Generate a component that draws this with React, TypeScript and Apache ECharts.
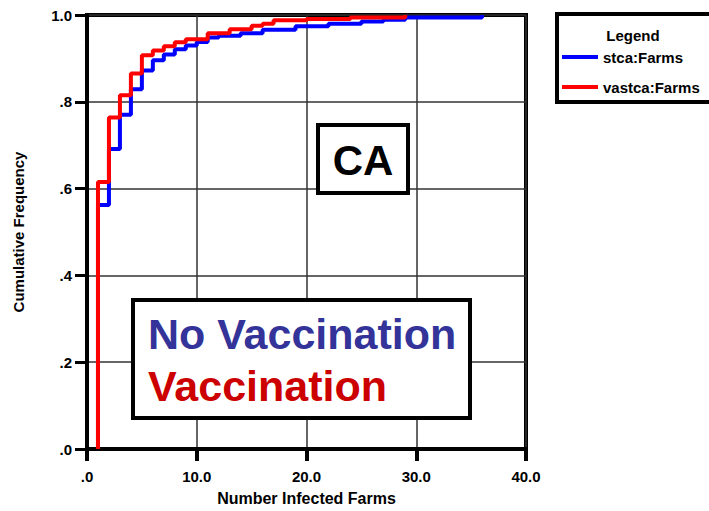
import React, { useEffect, useRef } from 'react';
import * as echarts from 'echarts';

const xTickLabels = ['.0', '10.0', '20.0', '30.0', '40.0'];
const yTickLabels = ['.0', '.2', '.4', '.6', '.8', '1.0'];

const seriesNames = ['stca:Farms', 'vastca:Farms'];

// stca:Farms (No Vaccination) cumulative step points
const stcaX = [1, 1, 2, 3, 4, 5, 6, 7, 8, 9, 10, 11, 12, 14, 16, 19, 22, 25, 27, 29, 36];
const stcaY = [0, 0.562, 0.691, 0.770, 0.829, 0.872, 0.896, 0.909, 0.921, 0.930, 0.938, 0.948, 0.952, 0.958, 0.966, 0.974, 0.980, 0.985, 0.989, 0.994, 1.0];

// vastca:Farms (Vaccination) cumulative step points
const vastcaX = [1, 1, 2, 3, 4, 5, 6, 7, 8, 9, 11, 13, 15, 16, 17, 20, 24, 29];
const vastcaY = [0, 0.615, 0.764, 0.815, 0.865, 0.907, 0.918, 0.928, 0.937, 0.944, 0.958, 0.967, 0.975, 0.980, 0.988, 0.991, 0.994, 1.0];

const FONT = 'Liberation Sans, Arial, sans-serif';

export default function App() {
  const ref = useRef<HTMLDivElement>(null);

  useEffect(() => {
    if (!ref.current) return;
    const chart = echarts.init(ref.current, undefined, { renderer: 'svg' });
    const zip = (xs: number[], ys: number[]) => xs.map((x, i) => [x, ys[i]]);

    chart.setOption({
      animation: false,
      backgroundColor: '#ffffff',
      grid: {
        left: 87,
        right: 183,
        top: 15,
        bottom: 62,
        show: true,
        borderColor: '#000',
        borderWidth: 4,
        backgroundColor: '#fff',
      },
      xAxis: {
        type: 'value',
        min: 0,
        max: 40,
        interval: 10,
        name: 'Number Infected Farms',
        nameLocation: 'middle',
        nameGap: 41,
        nameTextStyle: { fontFamily: FONT, fontWeight: 'bold', fontSize: 16, color: '#000' },
        axisLine: { show: true, onZero: false, lineStyle: { color: '#000', width: 4 } },
        axisTick: { show: true, length: 12, lineStyle: { color: '#000', width: 4 } },
        splitLine: { show: true, lineStyle: { color: '#333', width: 1.5 } },
        axisLabel: {
          margin: 20,
          fontFamily: FONT,
          fontWeight: 'bold',
          fontSize: 15,
          color: '#000',
          formatter: (v: number) => xTickLabels[Math.round(v / 10)] ?? '',
        },
      },
      yAxis: {
        type: 'value',
        min: 0,
        max: 1,
        interval: 0.2,
        name: 'Cumulative Frequency',
        nameLocation: 'middle',
        nameGap: 61,
        nameTextStyle: { fontFamily: FONT, fontWeight: 'bold', fontSize: 15, color: '#000' },
        axisLine: { show: true, lineStyle: { color: '#000', width: 4 } },
        axisTick: { show: true, length: 12, lineStyle: { color: '#000', width: 3 } },
        splitLine: { show: true, lineStyle: { color: '#333', width: 1.5 } },
        axisLabel: {
          margin: 15,
          fontFamily: FONT,
          fontWeight: 'bold',
          fontSize: 15,
          color: '#000',
          formatter: (v: number) => yTickLabels[Math.round(v / 0.2)] ?? '',
        },
      },
      legend: {
        orient: 'vertical',
        left: 562,
        top: 49,
        padding: 0,
        itemWidth: 36,
        itemHeight: 4,
        itemGap: 14,
        icon: 'rect',
        data: seriesNames,
        textStyle: { fontFamily: FONT, fontWeight: 'bold', fontSize: 15, color: '#000', lineHeight: 16, padding: [0, 0, 0, 0] },
      },
      series: [
        {
          name: seriesNames[0],
          type: 'line',
          step: 'end',
          showSymbol: false,
          symbol: 'none',
          lineStyle: { color: '#0000ff', width: 4 },
          itemStyle: { color: '#0000ff' },
          data: zip(stcaX, stcaY),
          z: 2,
        },
        {
          name: seriesNames[1],
          type: 'line',
          step: 'end',
          showSymbol: false,
          symbol: 'none',
          lineStyle: { color: '#ff0000', width: 4 },
          itemStyle: { color: '#ff0000' },
          data: zip(vastcaX, vastcaY),
          z: 3,
        },
      ],
      graphic: [
        {
          type: 'rect',
          shape: { x: 557, y: 14, width: 170, height: 88 },
          style: { fill: 'rgba(0,0,0,0)', stroke: '#000', lineWidth: 4 },
          z: 1,
        },
        {
          type: 'text',
          x: 633,
          y: 35,
          style: {
            text: 'Legend',
            font: `bold 15px ${FONT}`,
            fill: '#000',
            textAlign: 'center',
            textVerticalAlign: 'middle',
          },
        },
        {
          type: 'rect',
          shape: { x: 318, y: 125, width: 90, height: 68 },
          style: { fill: '#fff', stroke: '#000', lineWidth: 4 },
          z: 10,
        },
        {
          type: 'text',
          x: 363,
          y: 160,
          z: 11,
          style: {
            text: 'CA',
            font: `bold 42px ${FONT}`,
            fill: '#000',
            textAlign: 'center',
            textVerticalAlign: 'middle',
          },
        },
        {
          type: 'rect',
          shape: { x: 133, y: 300, width: 337, height: 118 },
          style: { fill: '#fff', stroke: '#000', lineWidth: 4 },
          z: 10,
        },
        {
          type: 'text',
          x: 148,
          y: 334,
          z: 11,
          style: {
            text: 'No Vaccination',
            font: `bold 43px ${FONT}`,
            fill: '#333399',
            textAlign: 'left',
            textVerticalAlign: 'middle',
          },
        },
        {
          type: 'text',
          x: 148,
          y: 386,
          z: 11,
          style: {
            text: 'Vaccination',
            font: `bold 43px ${FONT}`,
            fill: '#cc0000',
            textAlign: 'left',
            textVerticalAlign: 'middle',
          },
        },
      ],
    });

    return () => chart.dispose();
  }, []);

  return (
    <div
      ref={ref}
      style={{ position: 'fixed', left: 0, top: 0, width: 709, height: 511, background: '#fff' }}
    />
  );
}
